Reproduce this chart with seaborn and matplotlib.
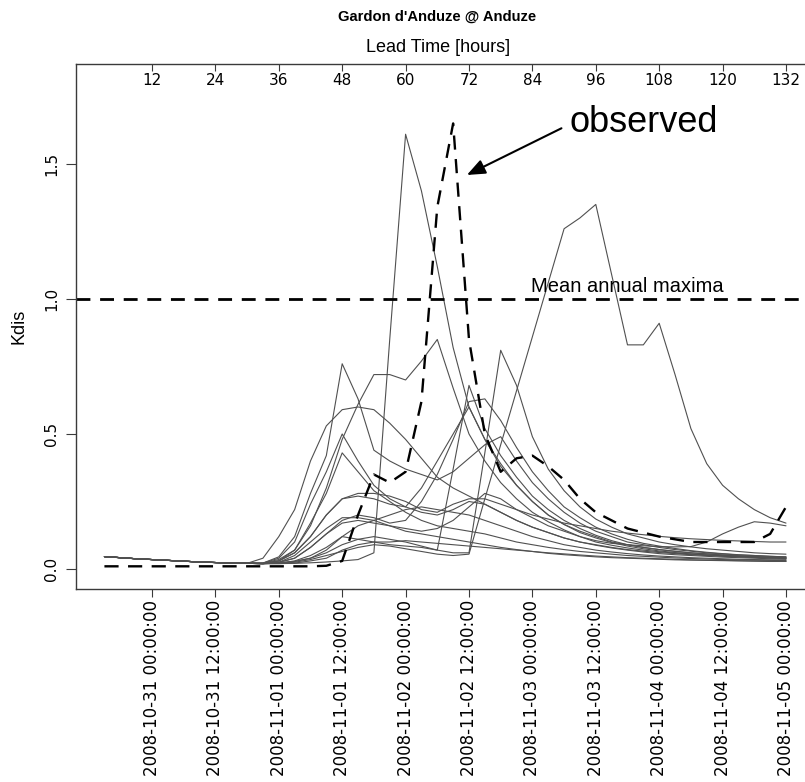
import numpy as np
import pandas as pd
import matplotlib
matplotlib.use("Agg")
import matplotlib.pyplot as plt
import seaborn as sns

# ---------------- data ----------------
lead_hours = list(range(3, 133, 3))  # 3 .. 132, 44 steps

tick_hours = [12, 24, 36, 48, 60, 72, 84, 96, 108, 120, 132]
tick_dates = ["2008-10-31 00:00:00", "2008-10-31 12:00:00", "2008-11-01 00:00:00",
              "2008-11-01 12:00:00", "2008-11-02 00:00:00", "2008-11-02 12:00:00",
              "2008-11-03 00:00:00", "2008-11-03 12:00:00", "2008-11-04 00:00:00",
              "2008-11-04 12:00:00", "2008-11-05 00:00:00"]

observed = [0.01, 0.01, 0.01, 0.01, 0.01, 0.01, 0.01, 0.01, 0.01, 0.01,
            0.01, 0.01, 0.01, 0.01, 0.012, 0.03, 0.20, 0.35, 0.32, 0.36,
            0.62, 1.34, 1.65, 0.85, 0.50, 0.36, 0.41, 0.42, 0.38, 0.33,
            0.26, 0.21, 0.18, 0.15, 0.135, 0.12, 0.11, 0.10, 0.10, 0.10,
            0.10, 0.10, 0.13, 0.23]

mean_annual_max = 1.0

m01 = [0.046, 0.042, 0.038, 0.035, 0.032, 0.029, 0.026, 0.024, 0.022, 0.021,
       0.020, 0.020, 0.021, 0.023, 0.026, 0.030, 0.035, 0.060, 0.85, 1.61,
       1.40, 1.12, 0.82, 0.60, 0.48, 0.39, 0.31, 0.25, 0.20, 0.165,
       0.14, 0.12, 0.10, 0.09, 0.08, 0.072, 0.066, 0.06, 0.056, 0.052,
       0.049, 0.046, 0.044, 0.042]
m02 = [0.046, 0.042, 0.038, 0.035, 0.032, 0.029, 0.026, 0.024, 0.022, 0.021,
       0.020, 0.021, 0.025, 0.035, 0.05, 0.065, 0.08, 0.09, 0.085, 0.075,
       0.065, 0.055, 0.05, 0.055, 0.26, 0.46, 0.66, 0.86, 1.06, 1.26,
       1.30, 1.35, 1.09, 0.83, 0.83, 0.91, 0.72, 0.52, 0.39, 0.31,
       0.26, 0.22, 0.19, 0.17]
m03 = [0.046, 0.042, 0.038, 0.035, 0.032, 0.029, 0.026, 0.024, 0.022, 0.021,
       0.020, 0.022, 0.028, 0.04, 0.06, 0.09, 0.11, 0.12, 0.11, 0.10,
       0.085, 0.07, 0.06, 0.06, 0.43, 0.81, 0.68, 0.49, 0.37, 0.29,
       0.23, 0.185, 0.155, 0.13, 0.115, 0.10, 0.09, 0.082, 0.075, 0.07,
       0.065, 0.06, 0.057, 0.055]
m04 = [0.046, 0.042, 0.038, 0.035, 0.032, 0.029, 0.026, 0.024, 0.022, 0.021,
       0.022, 0.035, 0.07, 0.16, 0.30, 0.48, 0.61, 0.72, 0.72, 0.70,
       0.77, 0.85, 0.67, 0.50, 0.40, 0.32, 0.26, 0.21, 0.175, 0.145,
       0.12, 0.10, 0.088, 0.078, 0.07, 0.064, 0.059, 0.055, 0.052, 0.049,
       0.046, 0.044, 0.042, 0.04]
m05 = [0.046, 0.042, 0.038, 0.035, 0.032, 0.029, 0.026, 0.024, 0.022, 0.021,
       0.022, 0.045, 0.12, 0.28, 0.42, 0.76, 0.63, 0.44, 0.40, 0.37,
       0.35, 0.33, 0.36, 0.41, 0.46, 0.49, 0.40, 0.32, 0.26, 0.21,
       0.17, 0.14, 0.12, 0.10, 0.09, 0.08, 0.072, 0.066, 0.06, 0.056,
       0.052, 0.05, 0.047, 0.045]
m06 = [0.046, 0.042, 0.038, 0.035, 0.032, 0.029, 0.026, 0.024, 0.022, 0.021,
       0.04, 0.12, 0.22, 0.40, 0.53, 0.59, 0.60, 0.59, 0.54, 0.48,
       0.41, 0.34, 0.30, 0.27, 0.24, 0.21, 0.18, 0.155, 0.135, 0.115,
       0.10, 0.09, 0.08, 0.072, 0.066, 0.061, 0.057, 0.053, 0.05, 0.047,
       0.045, 0.043, 0.041, 0.04]
m07 = [0.046, 0.042, 0.038, 0.035, 0.032, 0.029, 0.026, 0.024, 0.022, 0.021,
       0.02, 0.022, 0.028, 0.04, 0.07, 0.12, 0.11, 0.10, 0.09, 0.085,
       0.08, 0.07, 0.37, 0.68, 0.52, 0.42, 0.34, 0.27, 0.22, 0.18,
       0.15, 0.125, 0.105, 0.09, 0.08, 0.072, 0.065, 0.06, 0.056, 0.052,
       0.049, 0.046, 0.044, 0.042]
m08 = [0.046, 0.042, 0.038, 0.035, 0.032, 0.029, 0.026, 0.024, 0.022, 0.021,
       0.02, 0.025, 0.04, 0.08, 0.13, 0.18, 0.20, 0.19, 0.17, 0.18,
       0.25, 0.35, 0.48, 0.62, 0.63, 0.55, 0.45, 0.36, 0.29, 0.23,
       0.19, 0.155, 0.13, 0.11, 0.095, 0.085, 0.076, 0.068, 0.062, 0.057,
       0.053, 0.05, 0.047, 0.045]
m09 = [0.046, 0.042, 0.038, 0.035, 0.032, 0.029, 0.026, 0.024, 0.022, 0.021,
       0.02, 0.03, 0.06, 0.12, 0.20, 0.26, 0.27, 0.26, 0.24, 0.23,
       0.30, 0.40, 0.50, 0.60, 0.48, 0.38, 0.31, 0.25, 0.20, 0.165,
       0.135, 0.115, 0.098, 0.085, 0.075, 0.067, 0.061, 0.056, 0.052, 0.049,
       0.046, 0.043, 0.041, 0.039]
m10 = [0.046, 0.042, 0.038, 0.035, 0.032, 0.029, 0.026, 0.024, 0.022, 0.021,
       0.022, 0.04, 0.10, 0.24, 0.36, 0.50, 0.40, 0.31, 0.26, 0.23,
       0.21, 0.20, 0.22, 0.25, 0.24, 0.21, 0.18, 0.155, 0.135, 0.115,
       0.10, 0.088, 0.078, 0.07, 0.063, 0.057, 0.053, 0.05, 0.047, 0.044,
       0.042, 0.04, 0.038, 0.036]
m11 = [0.046, 0.042, 0.038, 0.035, 0.032, 0.029, 0.026, 0.024, 0.022, 0.021,
       0.02, 0.03, 0.07, 0.17, 0.28, 0.43, 0.36, 0.29, 0.25, 0.21,
       0.18, 0.16, 0.15, 0.14, 0.13, 0.115, 0.10, 0.09, 0.08, 0.072,
       0.065, 0.06, 0.055, 0.05, 0.047, 0.044, 0.041, 0.039, 0.037, 0.035,
       0.034, 0.033, 0.032, 0.031]
m12 = [0.046, 0.042, 0.038, 0.035, 0.032, 0.029, 0.026, 0.024, 0.022, 0.021,
       0.022, 0.03, 0.06, 0.12, 0.20, 0.26, 0.28, 0.28, 0.27, 0.25,
       0.22, 0.21, 0.24, 0.26, 0.26, 0.24, 0.22, 0.20, 0.185, 0.17,
       0.16, 0.15, 0.14, 0.133, 0.127, 0.121, 0.116, 0.112, 0.109, 0.106,
       0.104, 0.102, 0.10, 0.10]
m13 = [0.046, 0.042, 0.038, 0.035, 0.032, 0.029, 0.026, 0.024, 0.022, 0.021,
       0.02, 0.025, 0.05, 0.10, 0.15, 0.19, 0.19, 0.18, 0.16, 0.14,
       0.13, 0.12, 0.11, 0.10, 0.09, 0.08, 0.072, 0.065, 0.058, 0.053,
       0.049, 0.045, 0.042, 0.04, 0.038, 0.036, 0.034, 0.033, 0.032, 0.031,
       0.03, 0.029, 0.028, 0.028]
m14 = [0.046, 0.042, 0.038, 0.035, 0.032, 0.029, 0.026, 0.024, 0.022, 0.021,
       0.02, 0.022, 0.03, 0.05, 0.08, 0.12, 0.16, 0.18, 0.20, 0.22,
       0.23, 0.22, 0.21, 0.20, 0.18, 0.16, 0.14, 0.12, 0.105, 0.09,
       0.08, 0.07, 0.063, 0.057, 0.052, 0.048, 0.045, 0.042, 0.04, 0.038,
       0.036, 0.035, 0.034, 0.033]
m15 = [0.046, 0.042, 0.038, 0.035, 0.032, 0.029, 0.026, 0.024, 0.022, 0.021,
       0.02, 0.02, 0.022, 0.03, 0.04, 0.07, 0.09, 0.10, 0.10, 0.105,
       0.10, 0.095, 0.09, 0.085, 0.08, 0.075, 0.07, 0.065, 0.06, 0.056,
       0.052, 0.048, 0.045, 0.042, 0.04, 0.038, 0.036, 0.034, 0.033, 0.032,
       0.031, 0.03, 0.029, 0.028]
m16 = [0.046, 0.042, 0.038, 0.035, 0.032, 0.029, 0.026, 0.024, 0.022, 0.021,
       0.02, 0.024, 0.04, 0.08, 0.13, 0.17, 0.18, 0.17, 0.16, 0.15,
       0.14, 0.15, 0.18, 0.23, 0.28, 0.26, 0.22, 0.19, 0.16, 0.14,
       0.12, 0.105, 0.095, 0.09, 0.086, 0.083, 0.082, 0.083, 0.10, 0.13,
       0.155, 0.175, 0.17, 0.16]

members = {"m01": m01, "m02": m02, "m03": m03, "m04": m04, "m05": m05,
           "m06": m06, "m07": m07, "m08": m08, "m09": m09, "m10": m10,
           "m11": m11, "m12": m12, "m13": m13, "m14": m14, "m15": m15,
           "m16": m16}

# ---------------- plot ----------------
sns.set_style("white")
plt.rcParams["font.family"] = ["Liberation Sans", "DejaVu Sans"]
for k in ("text.color", "axes.labelcolor", "xtick.color", "ytick.color"):
    plt.rcParams[k] = "black"

W, H = 805, 782
fig = plt.figure(figsize=(W / 100, H / 100), dpi=100)
ax_left, ax_right, ax_top, ax_bot = 76, 814, 64, 589
ax = fig.add_axes([ax_left / W, (H - ax_bot) / H, (ax_right - ax_left) / W,
                   (ax_bot - ax_top) / H])

long = pd.DataFrame([
    {"lead": l, "Kdis": v, "member": name}
    for name, vals in members.items() for l, v in zip(lead_hours, vals)
])
sns.lineplot(data=long, x="lead", y="Kdis", units="member", estimator=None,
             color="#505050", linewidth=0.8, ax=ax, legend=False)

obs_df = pd.DataFrame({"lead": lead_hours, "Kdis": observed})
sns.lineplot(data=obs_df, x="lead", y="Kdis", color="black", linewidth=1.7,
             ax=ax, legend=False)
ax.lines[-1].set_dashes([6, 4])

ax.axhline(mean_annual_max, color="black", linewidth=2.0, dashes=(5, 3.5))
ax.text(102, 1.045, "Mean annual maxima", ha="center", va="center",
        fontsize=14.5, color="black")

ax.annotate("", xy=(71.6, 1.459), xytext=(89.5, 1.632),
            arrowprops=dict(arrowstyle="-|>,head_length=1.1,head_width=0.45",
                            color="black", lw=1.5, shrinkA=0, shrinkB=0))
ax.text(91.1, 1.62, "observed", ha="left", va="baseline", fontsize=26,
        color="black",
        family=["Liberation Sans Narrow", "Liberation Sans", "DejaVu Sans"])

ax.set_xlim(-2.38, 137.3)
ax.set_ylim(-0.074, 1.870)

for s in ax.spines.values():
    s.set_color("#3a3a3a")
    s.set_linewidth(1.0)

ax.set_xticks(tick_hours)
ax.set_xticklabels(tick_dates, rotation=90, fontsize=12,
                   family=["DejaVu Sans"])
ax.tick_params(axis="x", direction="out", length=6, width=0.8, pad=2,
               color="#3a3a3a", bottom=True)
ax.set_yticks([0.0, 0.5, 1.0, 1.5])
ax.set_yticklabels(["0.0", "0.5", "1.0", "1.5"], rotation=90, va="center",
                   fontsize=11, family=["DejaVu Sans"])
ax.tick_params(axis="y", direction="out", length=7, width=0.8, pad=5,
               color="#3a3a3a", left=True)
ax.set_xlabel("")
ax.set_ylabel("Kdis", fontsize=13)
ax.yaxis.set_label_coords(-(76 - 27) / (ax_right - ax_left), 0.5)

sec = ax.secondary_xaxis("top")
sec.set_xticks(tick_hours)
sec.set_xticklabels([str(h) for h in tick_hours], fontsize=11,
                    family=["DejaVu Sans"])
sec.tick_params(direction="in", length=5, width=0.8, pad=-17,
                color="#3a3a3a")
sec.spines["top"].set_visible(False)

fig.text(437 / W, 1 - 17 / H, "Gardon d'Anduze @ Anduze", ha="center",
         va="center", fontsize=10.6, fontweight="bold")
fig.text(438 / W, 1 - 47 / H, "Lead Time [hours]", ha="center",
         va="center", fontsize=13)

fig.savefig("out.png", dpi=100)
